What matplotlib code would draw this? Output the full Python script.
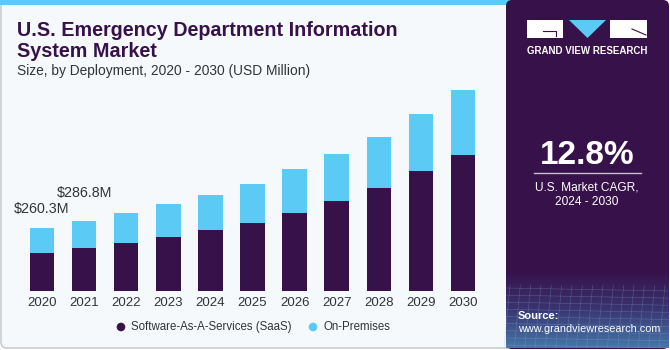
import matplotlib.pyplot as plt
import numpy as np
from matplotlib.patches import FancyBboxPatch, Rectangle, Polygon, Circle
from matplotlib.colors import LinearSegmentedColormap

plt.rcParams['font.family'] = ['Liberation Sans', 'DejaVu Sans']

years = ['2020', '2021', '2022', '2023', '2024', '2025', '2026', '2027', '2028', '2029', '2030']
saas = [157, 175, 197, 223, 250, 280, 321, 367, 422, 492, 559]
on_prem = [103.3, 111.8, 121, 132, 145, 160, 178, 193, 211, 232, 265]
labels = {0: '$260.3M', 1: '$286.8M'}
label_offsets = {0: 8, 1: 15}

DARK = '#371149'
BLUE = '#5BCBF5'
BG = '#F5F9FC'

fig = plt.figure(figsize=(6.7, 3.5), dpi=100)
fig.patch.set_facecolor('white')

# background canvas in pixel coords
bg = fig.add_axes([0, 0, 1, 1], zorder=0)
bg.set_xlim(0, 670)
bg.set_ylim(350, 0)
bg.axis('off')

bg.add_patch(FancyBboxPatch((1, 1), 520, 347, boxstyle='round,pad=0,rounding_size=6',
                            facecolor=BG, edgecolor='#CCCCCC', lw=1.2))
bg.add_patch(Rectangle((0, 0), 510, 5, facecolor=BLUE, edgecolor='none'))

# right panel
bg.add_patch(FancyBboxPatch((506, 0), 163, 349, boxstyle='round,pad=0,rounding_size=6',
                            facecolor=DARK, edgecolor='none'))
grad = np.linspace(0, 1, 100).reshape(-1, 1)
cmap = LinearSegmentedColormap.from_list('g', [DARK, '#3A3470', '#4577A8'])
bg.imshow(grad, extent=(506, 669, 348, 270), cmap=cmap, aspect='auto', zorder=1)
for yy in np.linspace(288, 345, 9):
    bg.plot([506, 669], [yy, yy + 3], color='#8FB4DE', lw=0.4, alpha=0.35, zorder=2)
for xx in np.linspace(510, 665, 16):
    bg.plot([xx, xx - 6], [285, 348], color='#8FB4DE', lw=0.4, alpha=0.35, zorder=2)

# logo
bg.add_patch(Rectangle((527, 20), 36, 18, facecolor='white', edgecolor='none', zorder=3))
bg.plot([543, 556, 556], [31, 31, 36], color=DARK, lw=0.8, zorder=4)
bg.add_patch(Polygon([(569, 20), (606, 20), (587.5, 38)], closed=True, facecolor=BLUE,
                     edgecolor='none', zorder=3))
bg.add_patch(Rectangle((610, 20), 37, 18, facecolor='white', edgecolor='none', zorder=3))
bg.plot([632, 646], [29, 35], color=DARK, lw=0.8, zorder=4)
bg.text(587, 51, 'GRAND VIEW RESEARCH', color='white', fontsize=7.0, fontweight='bold',
        ha='center', va='center', zorder=3)

bg.text(587, 156, '12.8%', color='white', fontsize=24, fontweight='bold',
        ha='center', va='center', zorder=3)
bg.plot([534, 641], [173, 173], color='#C9BFD4', lw=1, zorder=3)
bg.text(587, 187, 'U.S. Market CAGR,', color='white', fontsize=8.6, ha='center', va='center', zorder=3)
bg.text(587, 202, '2024 - 2030', color='white', fontsize=8.6, ha='center', va='center', zorder=3)
bg.text(518, 316, 'Source:', color='white', fontsize=8, fontweight='bold', ha='left', va='center', zorder=3)
bg.text(518, 329, 'www.grandviewresearch.com', color='white', fontsize=7.8, ha='left', va='center', zorder=3)

# titles
bg.text(17, 35.5, 'U.S. Emergency Department Information', color=DARK, fontsize=14.2,
        fontweight='bold', ha='left', va='baseline')
bg.text(17, 57, 'System Market', color=DARK, fontsize=14.2, fontweight='bold', ha='left', va='baseline')
bg.text(17, 75.5, 'Size, by Deployment, 2020 - 2030 (USD Million)', color='#333333', fontsize=9.9,
        ha='left', va='baseline')

# legend
bg.add_patch(Circle((121, 327), 4.3, facecolor=DARK, edgecolor='none'))
bg.text(131, 327, 'Software-As-A-Services (SaaS)', color='#333333', fontsize=8.3, ha='left', va='center')
bg.add_patch(Circle((313, 327), 4.3, facecolor=BLUE, edgecolor='none'))
bg.text(323, 327, 'On-Premises', color='#333333', fontsize=8.3, ha='left', va='center')

# bars
ax = fig.add_axes([21 / 670, 59 / 350, 463 / 670, 211 / 350], zorder=1)
ax.patch.set_alpha(0)
x = np.arange(len(years))
ax.bar(x, saas, width=0.58, color=DARK, edgecolor='none')
ax.bar(x, on_prem, bottom=saas, width=0.58, color=BLUE, edgecolor='none')
totals = [s + o for s, o in zip(saas, on_prem)]
for i, txt in labels.items():
    ax.annotate(txt, (x[i], totals[i]), xytext=(0, label_offsets[i]), textcoords='offset points',
                ha='center', va='bottom', fontsize=10.3, color='#333333')
ax.set_xlim(-0.5, len(years) - 0.5)
ax.set_ylim(0, 865)
ax.set_xticks(x)
ax.set_xticklabels(years, fontsize=9.5, color='#333333')
ax.tick_params(axis='x', length=0, pad=4)
ax.set_yticks([])
for s in ax.spines.values():
    s.set_visible(False)

fig.savefig('out.png', dpi=100)
